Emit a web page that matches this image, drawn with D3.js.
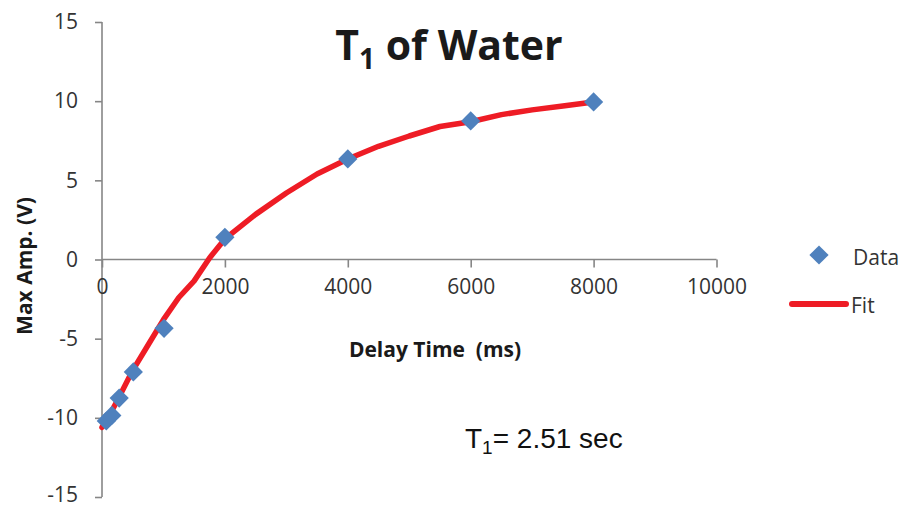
<!DOCTYPE html>
<html>
<head>
<meta charset="utf-8">
<script src="https://cdn.jsdelivr.net/npm/d3@7"></script>
<style>
  html, body { margin: 0; padding: 0; background: #fff; }
  svg { display: block; }
</style>
</head>
<body>
<svg id="chart" width="900" height="508"></svg>
<script>
// Inversion-recovery measurements: delay time (ms) vs. maximum amplitude (V)
const dataTimes  = [70, 160, 280, 510, 1010, 2000, 4000, 6000, 8000];
const dataValues = [-10.2, -9.85, -8.75, -7.1, -4.35, 1.4, 6.35, 8.75, 9.95];

// Fitted recovery curve
const fitTimes  = [0, 100, 250, 500, 750, 1000, 1250, 1500, 1750, 2000, 2500, 3000,
                   3500, 4000, 4500, 5000, 5500, 6000, 6500, 7000, 7500, 8000];
const fitValues = [-10.6, -10.0, -8.9, -7.0, -5.4, -3.8, -2.4, -1.35, 0.1, 1.3, 2.85, 4.2,
                   5.4, 6.35, 7.15, 7.8, 8.4, 8.7, 9.15, 9.45, 9.7, 9.95];

const xTicks = [0, 2000, 4000, 6000, 8000, 10000];
const yTicks = [-15, -10, -5, 0, 5, 10, 15];

const svg = d3.select("#chart");
const axisColor = "#868686";
const textColor = "#333333";
const blue = "#4f81bd";
const red = "#ee1c25";
const plain = d => String(d);   // hyphen-minus, no thousands separator

const x = d3.scaleLinear().domain([0, 10000]).range([102, 716.5]);
const y = d3.scaleLinear().domain([-15, 15]).range([497, 22]);

// Y axis (vertical line at x = 0)
const yAxis = svg.append("g")
  .attr("transform", `translate(${x(0)},0)`)
  .call(d3.axisLeft(y).tickValues(yTicks).tickSize(7).tickPadding(17).tickFormat(plain));
// X axis (horizontal line at y = 0)
const xAxis = svg.append("g")
  .attr("transform", `translate(0,${y(0)})`)
  .call(d3.axisBottom(x).tickValues(xTicks).tickSize(8).tickPadding(12).tickFormat(plain));

[xAxis, yAxis].forEach(g => {
  g.select(".domain").attr("stroke", axisColor).attr("stroke-width", 1.6);
  g.selectAll(".tick line").attr("stroke", axisColor).attr("stroke-width", 1.6);
  g.selectAll(".tick text")
    .attr("fill", textColor)
    .style("font-family", "'Open Sans', sans-serif")
    .style("font-size", "21px");
});
// plain axis lines without d3's outer end ticks
xAxis.select(".domain").attr("d", `M${x(0)},0H${x(10000)}`);
yAxis.select(".domain").attr("d", `M0,${y(15)}V${y(-15)}`);
// keep the lowest label inside the frame
yAxis.selectAll(".tick text").filter(d => d === -15).attr("dy", "0.2em");

// Fit curve
const line = d3.line().x(d => x(d[0])).y(d => y(d[1]));
svg.append("path")
  .datum(d3.zip(fitTimes, fitValues))
  .attr("d", line)
  .attr("fill", "none")
  .attr("stroke", red)
  .attr("stroke-width", 5.5)
  .attr("stroke-linejoin", "round")
  .attr("stroke-linecap", "round");

// Data markers (diamonds)
const diamond = d3.symbol().type(d3.symbolSquare).size(185);
svg.append("g").selectAll("path")
  .data(d3.zip(dataTimes, dataValues))
  .join("path")
  .attr("d", diamond)
  .attr("transform", d => `translate(${x(d[0])},${y(d[1])}) rotate(45)`)
  .attr("fill", blue);

// Title
const title = svg.append("text")
  .attr("x", 449).attr("y", 60)
  .attr("text-anchor", "middle")
  .attr("fill", "#1a1a1a")
  .style("font-family", "'Open Sans', sans-serif")
  .style("font-weight", "bold")
  .style("font-size", "41px");
title.append("tspan").text("T");
title.append("tspan").attr("dy", 9).style("font-size", "28px").text("1");
title.append("tspan").attr("dy", -9).text(" of Water");

// Axis titles
svg.append("text")
  .attr("x", 435).attr("y", 357)
  .attr("text-anchor", "middle")
  .attr("fill", "#1a1a1a")
  .style("font-family", "'Open Sans', sans-serif")
  .style("font-weight", "bold")
  .style("font-size", "21px")
  .style("white-space", "pre")
  .text("Delay Time  (ms)");

svg.append("text")
  .attr("transform", "translate(32,266) rotate(-90)")
  .attr("text-anchor", "middle")
  .attr("fill", "#1a1a1a")
  .style("font-family", "'Open Sans', sans-serif")
  .style("font-weight", "bold")
  .style("font-size", "21px")
  .text("Max Amp. (V)");

// Legend
const legend = svg.append("g");
legend.append("path")
  .attr("d", diamond)
  .attr("transform", "translate(819,255) rotate(45)")
  .attr("fill", blue);
legend.append("text")
  .attr("x", 853).attr("y", 265)
  .attr("fill", textColor)
  .style("font-family", "'Open Sans', sans-serif")
  .style("font-size", "21px")
  .text("Data");
legend.append("line")
  .attr("x1", 792).attr("x2", 846).attr("y1", 304).attr("y2", 304)
  .attr("stroke", red).attr("stroke-width", 6).attr("stroke-linecap", "round");
legend.append("text")
  .attr("x", 851).attr("y", 313)
  .attr("fill", textColor)
  .style("font-family", "'Open Sans', sans-serif")
  .style("font-size", "21px")
  .text("Fit");

// Fitted T1 annotation
const note = svg.append("text")
  .attr("x", 465).attr("y", 448)
  .attr("fill", "#111")
  .style("font-family", "'Liberation Sans', Arial, sans-serif")
  .style("font-size", "28px");
note.append("tspan").text("T");
note.append("tspan").attr("dy", 6).style("font-size", "19px").text("1");
note.append("tspan").attr("dy", -6).text("= 2.51 sec");
</script>
</body>
</html>
